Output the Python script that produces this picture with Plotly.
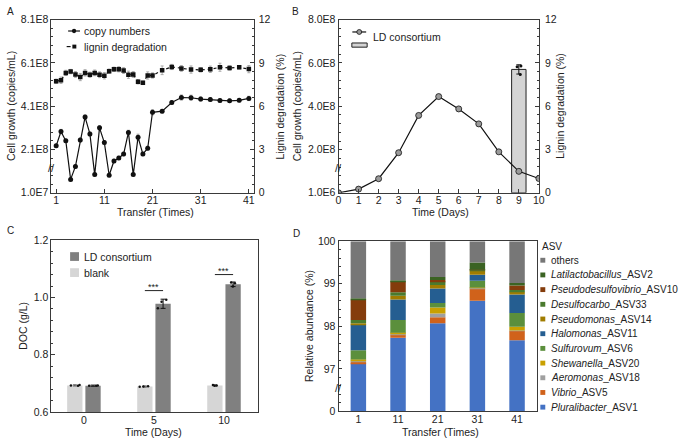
import plotly.graph_objects as go

W, H = 685, 444
FONT = "Liberation Sans, Arial, Helvetica, sans-serif"
INK = "#222222"
AX = "#3a3a3a"

# ---------------- data ----------------
# Panel A
transfer_a = list(range(1, 22)) + list(range(23, 42, 2))
copy_numbers = [2.27e8, 2.93e8, 2.50e8, 0.72e8, 1.32e8, 2.54e8, 3.60e8, 2.82e8, 0.94e8, 3.10e8,
                2.42e8, 0.91e8, 1.57e8, 1.71e8, 1.89e8, 2.89e8, 0.94e8, 2.67e8, 1.89e8, 2.16e8,
                3.82e8, 3.87e8, 4.27e8, 4.50e8, 4.49e8, 4.43e8, 4.41e8, 4.36e8, 4.35e8, 4.37e8, 4.46e8]
copy_err = [0.08e8, 0.10e8, 0.08e8, 0.07e8, 0.08e8, 0.09e8, 0.10e8, 0.09e8, 0.07e8, 0.10e8,
            0.09e8, 0.07e8, 0.08e8, 0.08e8, 0.08e8, 0.10e8, 0.07e8, 0.14e8, 0.08e8, 0.09e8,
            0.12e8, 0.08e8, 0.09e8, 0.12e8, 0.12e8, 0.10e8, 0.09e8, 0.08e8, 0.08e8, 0.08e8, 0.10e8]
lignin_a = [7.73, 7.80, 8.31, 8.40, 8.20, 8.02, 8.31, 8.18, 8.31, 8.18,
            8.11, 8.43, 8.56, 8.56, 8.47, 8.18, 8.20, 7.69, 7.62, 8.13,
            8.13, 8.49, 8.72, 8.62, 8.54, 8.52, 8.56, 8.70, 8.65, 8.70, 8.57]
lignin_a_err = [0.15, 0.22, 0.18, 0.15, 0.20, 0.25, 0.22, 0.18, 0.20, 0.20,
                0.22, 0.15, 0.15, 0.18, 0.20, 0.25, 0.20, 0.15, 0.12, 0.25,
                0.18, 0.30, 0.18, 0.20, 0.25, 0.15, 0.22, 0.28, 0.15, 0.12, 0.25]
transfer_ticks_a = [1, 11, 21, 31, 41]
cell_ticks_a = [1.0e7, 2.1e8, 4.1e8, 6.1e8, 8.1e8]
cell_ticklabels_a = ["1.0E7", "2.1E8", "4.1E8", "6.1E8", "8.1E8"]

# Panel B
days_b = list(range(0, 11))
cells_b = [0.01e8, 0.18e8, 0.66e8, 1.86e8, 3.58e8, 4.45e8, 3.88e8, 3.19e8, 1.90e8, 1.00e8, 0.67e8]
cells_b_err = [0.01e8, 0.02e8, 0.03e8, 0.06e8, 0.06e8, 0.09e8, 0.08e8, 0.05e8, 0.05e8, 0.04e8, 0.03e8]
lignin_b_day = [9]
lignin_b = [8.55]
lignin_b_err = [0.32]
lignin_b_reps = [8.79, 8.20, 8.74]
cell_ticks_b = [1.0e6, 2.0e8, 4.0e8, 6.0e8, 8.0e8]
cell_ticklabels_b = ["1.0E6", "2.0E8", "4.0E8", "6.0E8", "8.0E8"]

# Panel C
days_c = ["0", "5", "10"]
doc_blank = [0.693, 0.689, 0.693]
doc_blank_err = [0.002, 0.002, 0.002]
doc_ld = [0.692, 0.978, 1.046]
doc_ld_err = [0.002, 0.016, 0.008]
blank_reps = [[0.693, 0.694, 0.692], [0.688, 0.690, 0.689], [0.692, 0.694, 0.693]]
ld_reps = [[0.693, 0.692, 0.692], [0.992, 0.962, 0.985], [1.052, 1.038, 1.050]]
sig_days = ["5", "10"]
sig_levels = [1.024, 1.080]
sig_text = ["***", "***"]

# Panel D
transfer_d = ["1", "11", "21", "31", "41"]
pluralibacter = [97.13, 97.73, 98.07, 98.60, 97.67]
vibrio = [0.04, 0.07, 0.14, 0.29, 0.22]
aeromonas = [0.02, 0.02, 0.09, 0.01, 0.01]
shewanella = [0.03, 0.03, 0.14, 0.01, 0.09]
sulfurovum = [0.22, 0.30, 0.11, 0.16, 0.32]
halomonas = [0.60, 0.48, 0.34, 0.14, 0.44]
pseudomonas = [0.03, 0.09, 0.08, 0.10, 0.06]
desulfocarbo = [0.08, 0.08, 0.08, 0.01, 0.04]
pseudodesulfovibrio = [0.48, 0.26, 0.04, 0.01, 0.11]
latilactobacillus = [0.03, 0.02, 0.07, 0.17, 0.06]
others = [1.34, 0.92, 0.84, 0.50, 0.98]
asv_names = ["Pluralibacter_ASV1", "Vibrio_ASV5", "Aeromonas_ASV18", "Shewanella_ASV20",
             "Sulfurovum_ASV6", "Halomonas_ASV11", "Pseudomonas_ASV14", "Desulfocarbo_ASV33",
             "Pseudodesulfovibrio_ASV10", "Latilactobacillus_ASV2", "others"]
asv_series = [pluralibacter, vibrio, aeromonas, shewanella, sulfurovum, halomonas,
              pseudomonas, desulfocarbo, pseudodesulfovibrio, latilactobacillus, others]
asv_colors = ["#4472C4", "#D0621B", "#A0A0A0", "#C9A000", "#5B8F3C", "#255E91",
              "#A07C00", "#4A7A2E", "#843C0C", "#3B6323", "#777777"]
abund_ticks = [96, 97, 98, 99, 100]
abund_ticklabels = ["0", "97", "98", "99", "100"]


def px(x):
    return x / W


def py(y):
    return 1 - y / H


fig = go.Figure()

# ---------------- Panel A ----------------
fig.add_trace(go.Scatter(
    x=transfer_a, y=copy_numbers, xaxis="x", yaxis="y", mode="lines+markers",
    line=dict(color="#111111", width=1.2), marker=dict(symbol="circle", size=5, color="#111111"),
    error_y=dict(type="data", array=copy_err, color="#9a9a9a", thickness=0.8, width=1.5),
    name="copy numbers"))
fig.add_trace(go.Scatter(
    x=transfer_a, y=lignin_a, xaxis="x", yaxis="y2", mode="lines+markers",
    line=dict(color="#111111", width=1.2, dash="3px,3px"),
    marker=dict(symbol="square", size=4.5, color="#111111"),
    error_y=dict(type="data", array=lignin_a_err, color="#9a9a9a", thickness=0.8, width=1.5),
    name="lignin degradation"))

# ---------------- Panel B ----------------
fig.add_trace(go.Bar(
    x=lignin_b_day, y=lignin_b, xaxis="x2", yaxis="y3", width=0.72,
    marker=dict(color="#d4d4d4", line=dict(color="#222222", width=1)),
    error_y=dict(type="data", array=lignin_b_err, color="#111111", thickness=1, width=2.5),
    name="lignin"))
fig.add_trace(go.Box(
    x=[lignin_b_day[0]] * len(lignin_b_reps), y=lignin_b_reps, xaxis="x2", yaxis="y3",
    boxpoints="all", jitter=0.9, pointpos=0, width=0.3,
    fillcolor="rgba(0,0,0,0)", line=dict(width=0),
    marker=dict(color="#111111", size=3), name="reps"))
fig.add_trace(go.Scatter(
    x=days_b, y=cells_b, xaxis="x2", yaxis="y4", mode="lines+markers",
    line=dict(color="#111111", width=1.2),
    marker=dict(symbol="circle", size=6, color="#9a9a9a", line=dict(color="#111111", width=0.8)),
    error_y=dict(type="data", array=cells_b_err, color="#9a9a9a", thickness=0.8, width=1.5),
    name="LD consortium"))

# ---------------- Panel C ----------------
fig.add_trace(go.Bar(
    x=days_c, y=doc_blank, xaxis="x3", yaxis="y5", offsetgroup="blank",
    marker=dict(color="#d6d6d6", line=dict(width=0)),
    error_y=dict(type="data", array=doc_blank_err, color="#555555", thickness=1, width=2),
    name="blank"))
fig.add_trace(go.Bar(
    x=days_c, y=doc_ld, xaxis="x3", yaxis="y5", offsetgroup="ld",
    marker=dict(color="#808080", line=dict(width=0)),
    error_y=dict(type="data", array=doc_ld_err, color="#111111", thickness=1, width=2.5),
    name="LD consortium"))
fig.add_trace(go.Box(
    x=[d for d, r in zip(days_c, blank_reps) for _ in r], y=[v for r in blank_reps for v in r],
    xaxis="x3", yaxis="y5", offsetgroup="blank", boxpoints="all", jitter=0.8, pointpos=0,
    fillcolor="rgba(0,0,0,0)", line=dict(width=0), marker=dict(color="#111111", size=2.5),
    name="blank reps"))
fig.add_trace(go.Box(
    x=[d for d, r in zip(days_c, ld_reps) for _ in r], y=[v for r in ld_reps for v in r],
    xaxis="x3", yaxis="y5", offsetgroup="ld", boxpoints="all", jitter=0.8, pointpos=0,
    fillcolor="rgba(0,0,0,0)", line=dict(width=0), marker=dict(color="#111111", size=2.5),
    name="ld reps"))

# ---------------- Panel D ----------------
running = [0.0] * len(transfer_d)
for name, vals, col in zip(asv_names, asv_series, asv_colors):
    fig.add_trace(go.Bar(
        x=transfer_d, y=vals, base=list(running), xaxis="x4", yaxis="y6",
        offsetgroup="asv", width=0.39, marker=dict(color=col, line=dict(width=0)), name=name))
    running = [r + v for r, v in zip(running, vals)]

# ---------------- axes ----------------
tickfont = dict(size=10.5, color=INK, family=FONT)
common = dict(showline=True, linecolor=AX, linewidth=1, ticks="inside", ticklen=3.5,
              tickcolor=AX, showgrid=False, zeroline=False, tickfont=tickfont)
minor_common = dict(ticks="inside", ticklen=2, tickcolor=AX, showgrid=False)

yA = [py(192), py(14)]
yC = [py(417.3), py(240.7)]
yD = [py(416.7), py(241.7)]

fig.update_layout(
    xaxis=dict(domain=[px(49), px(254)], anchor="y", range=[0, 42], tickvals=transfer_ticks_a,
               mirror=True, ticklabelstandoff=-2, **common),
    yaxis=dict(domain=yA, anchor="x", range=[1.0e7, 8.1e8], tickvals=cell_ticks_a,
               ticktext=cell_ticklabels_a, minor=dict(tick0=1e7, dtick=0.4e8, **minor_common), **common),
    yaxis2=dict(overlaying="y", side="right", anchor="x", range=[0, 12], tick0=0, dtick=3,
                ticklabelstandoff=2, minor=dict(tick0=0, dtick=0.6, **minor_common), **common),
    xaxis2=dict(domain=[px(340), px(543)], anchor="y3", range=[0, 10], tick0=0, dtick=1,
                mirror=True, ticklabelstandoff=-2, **common),
    yaxis3=dict(domain=yA, anchor="x2", side="right", range=[0, 12], tick0=0, dtick=3,
                ticklabelstandoff=3, minor=dict(tick0=0, dtick=0.6, **minor_common), **common),
    yaxis4=dict(overlaying="y3", side="left", anchor="x2", range=[1.0e6, 8.0e8], tickvals=cell_ticks_b,
                ticktext=cell_ticklabels_b, minor=dict(tick0=0, dtick=0.4e8, **minor_common), **common),
    xaxis3=dict(domain=[px(49), px(258)], anchor="y5", type="category", range=[-0.465, 2.48],
                mirror=True, ticklabelstandoff=-2, **{**common, "ticks": ""}),
    yaxis5=dict(domain=yC, anchor="x3", range=[0.6, 1.2], tick0=0.6, dtick=0.2, tickformat=".1f",
                mirror=True, minor=dict(tick0=0.6, dtick=0.04, **minor_common), **common),
    xaxis4=dict(domain=[px(340), px(541)], anchor="y6", type="category", range=[-0.5, 4.5],
                mirror=True, ticklabelstandoff=-2, **{**common, "ticks": ""}),
    yaxis6=dict(domain=yD, anchor="x4", range=[96, 100], tickvals=abund_ticks, ticktext=abund_ticklabels,
                mirror=True, minor=dict(tick0=96, dtick=0.2, **minor_common), **common),
    barmode="group", bargap=0.48, bargroupgap=0.16,
    boxmode="group", boxgap=0.48, boxgroupgap=0.16,
    showlegend=False,
    width=W, height=H, margin=dict(l=0, r=0, t=0, b=0),
    paper_bgcolor="white", plot_bgcolor="white",
    font=dict(family=FONT, size=10.5, color=INK),
)

annotations = []
shapes = []


def label(x, y, text, size=10.5, angle=0, xanchor="center", yanchor="middle"):
    annotations.append(dict(x=px(x), y=py(y), xref="paper", yref="paper", text=text, showarrow=False,
                            textangle=angle, xanchor=xanchor, yanchor=yanchor,
                            font=dict(family=FONT, size=size, color=INK)))


# panel letters
label(2, 6, "A", 10, xanchor="left")
label(291, 6, "B", 10, xanchor="left")
label(2, 231, "C", 10, xanchor="left")
label(292, 234, "D", 10, xanchor="left")

# axis titles
label(8, 103, "Cell growth (copies/mL)", angle=-90)
label(281, 103, "Lignin degradation (%)", angle=-90)
label(155, 212, "Transfer (Times)")
label(298, 103, "Cell growth (copies/mL)", angle=-90)
label(565, 103, "Lignin degradation (%)", angle=-90)
label(443, 212, "Time (Days)")
label(20, 329, "DOC (g/L)", angle=-90)
label(152, 438, "Time (Days)")
label(310, 329, "Relative abundance (%)", angle=-90)
label(443, 438, "Transfer (Times)")

# axis break marks
for bx, by in [(49, 167), (340, 167), (340, 393)]:
    label(bx, by, "//", 11)

# Panel A legend
shapes.append(dict(type="line", xref="paper", yref="paper", x0=px(66), x1=px(78), y0=py(25.7), y1=py(25.7),
                   line=dict(color="#111111", width=1.2)))
shapes.append(dict(type="circle", xref="paper", yref="paper", x0=px(69.8), x1=px(74.2), y0=py(27.9), y1=py(23.5),
                   fillcolor="#111111", line=dict(width=0)))
shapes.append(dict(type="line", xref="paper", yref="paper", x0=px(64.5), x1=px(68.5), y0=py(41.7), y1=py(41.7),
                   line=dict(color="#111111", width=1.2)))
shapes.append(dict(type="rect", xref="paper", yref="paper", x0=px(70.3), x1=px(74.3), y0=py(43.7), y1=py(39.7),
                   fillcolor="#111111", line=dict(width=0)))
label(80, 25.7, "copy numbers", xanchor="left")
label(80, 41.7, "lignin degradation", xanchor="left")

# Panel B legend
shapes.append(dict(type="line", xref="paper", yref="paper", x0=px(354), x1=px(368), y0=py(26.7), y1=py(26.7),
                   line=dict(color="#111111", width=1.2)))
shapes.append(dict(type="circle", xref="paper", yref="paper", x0=px(358.5), x1=px(363.5), y0=py(29.2), y1=py(24.2),
                   fillcolor="#9a9a9a", line=dict(color="#111111", width=0.8)))
shapes.append(dict(type="rect", xref="paper", yref="paper", x0=px(353.5), x1=px(369), y0=py(42.3), y1=py(38),
                   fillcolor="#d4d4d4", line=dict(color="#222222", width=1)))
label(373, 32, "LD consortium", xanchor="left")

# Panel C legend
shapes.append(dict(type="rect", xref="paper", yref="paper", x0=px(68), x1=px(77), y0=py(262), y1=py(253),
                   fillcolor="#808080", line=dict(width=0)))
shapes.append(dict(type="rect", xref="paper", yref="paper", x0=px(68), x1=px(77), y0=py(278.5), y1=py(269.5),
                   fillcolor="#d6d6d6", line=dict(width=0)))
label(80.5, 257.5, "LD consortium", xanchor="left")
label(80.5, 274, "blank", xanchor="left")

# Panel C significance marks
for d, lvl, txt in zip(sig_days, sig_levels, sig_text):
    ci = days_c.index(d)
    shapes.append(dict(type="line", xref="x3", yref="y5", x0=ci - 0.13, x1=ci + 0.13, y0=lvl, y1=lvl,
                       line=dict(color="#222222", width=1)))
    annotations.append(dict(x=ci, y=lvl, xref="x3", yref="y5", text=txt, showarrow=False,
                            yanchor="bottom", yshift=-3, font=dict(family=FONT, size=9, color=INK)))

# Panel D legend (top: others ... bottom: Pluralibacter)
label(544, 247.5, "ASV", 10, xanchor="left")
for i, (name, col) in enumerate(zip(asv_names[::-1], asv_colors[::-1])):
    yy = 261.3 + i * 15.1
    shapes.append(dict(type="rect", xref="paper", yref="paper", x0=px(544.5), x1=px(549.5),
                       y0=py(yy + 2.5), y1=py(yy - 2.5), fillcolor=col, line=dict(width=0)))
    if "_" in name:
        genus, rest = name.split("_", 1)
        text = "<i>" + genus + "</i>_" + rest
    else:
        text = name
    label(553, yy, text, 10, xanchor="left")

fig.update_layout(annotations=annotations, shapes=shapes)
fig.write_html("out.html", config={"displayModeBar": False},
               post_script="document.body.style.margin='0px';document.body.style.overflow='hidden';")
